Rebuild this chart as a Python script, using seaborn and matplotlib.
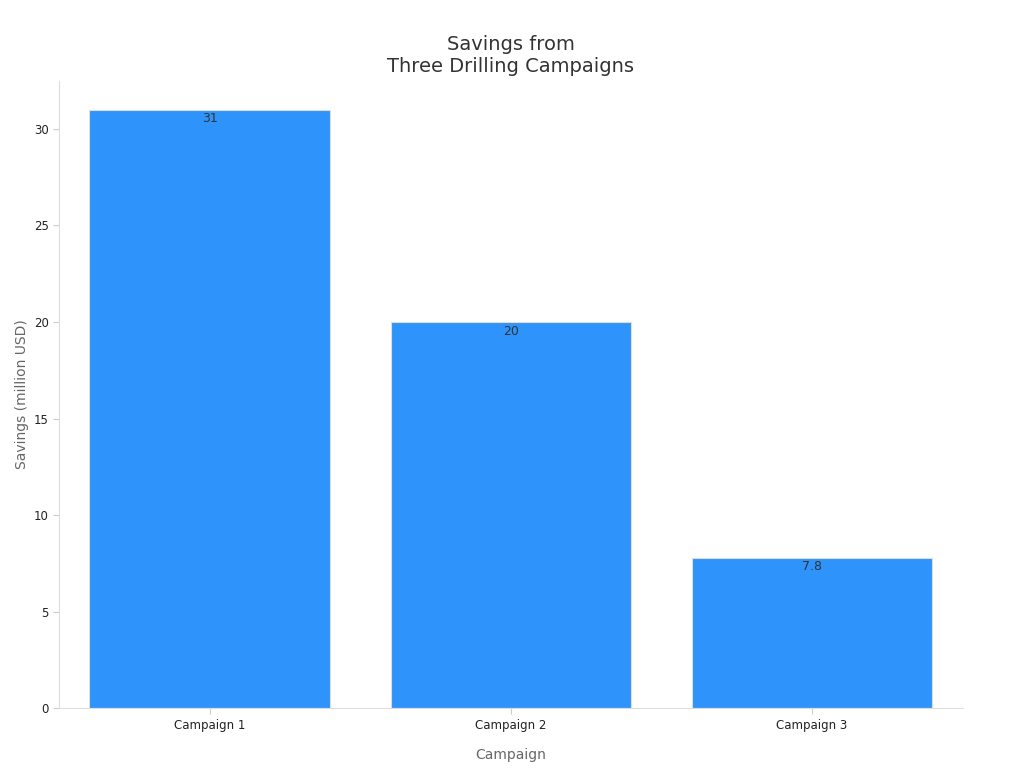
import matplotlib
matplotlib.use("Agg")
import matplotlib.pyplot as plt
import seaborn as sns
import pandas as pd

campaigns = ["Campaign 1", "Campaign 2", "Campaign 3"]
savings = [31, 20, 7.8]
labels = ["31", "20", "7.8"]

sns.set_style("white")
plt.rcParams['font.family'] = ['DejaVu Sans']
fig, ax = plt.subplots(figsize=(10.24, 7.68), dpi=100)
fig.subplots_adjust(left=0.058, right=0.94, top=0.895, bottom=0.078)
df = pd.DataFrame({"Campaign": campaigns, "Savings": savings})
sns.barplot(data=df, x="Campaign", y="Savings", color="#2E93FA", saturation=1, width=0.8, ax=ax,
            edgecolor="#dddddd", linewidth=0.8)
for i, (v, l) in enumerate(zip(savings, labels)):
    ax.text(i, v - 0.15, l, ha="center", va="top", fontsize=9, color="#333333")
ax.set_title("Savings from\nThree Drilling Campaigns", fontsize=14, color="#333333")
ax.set_xlabel("Campaign", fontsize=10, color="#666666", labelpad=12)
ax.set_ylabel("Savings (million USD)", fontsize=10, color="#666666")
ax.set_ylim(0, 32.5)
ax.set_yticks([0, 5, 10, 15, 20, 25, 30])
ax.tick_params(axis="both", labelsize=8.5, colors="#222222", length=4, color="#cccccc")
ax.tick_params(axis="x", bottom=True)
ax.tick_params(axis="y", left=True)
for s in ["top", "right"]:
    ax.spines[s].set_visible(False)
for s in ["left", "bottom"]:
    ax.spines[s].set_color("#dddddd")
fig.savefig("out.png")
